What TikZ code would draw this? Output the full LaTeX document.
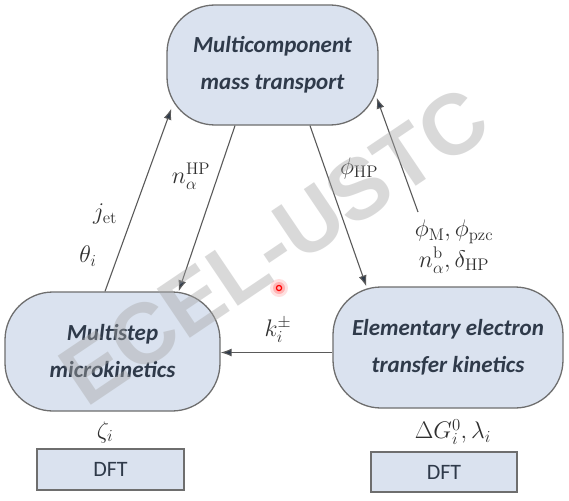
\documentclass[tikz,border=0pt]{standalone}
\usepackage{fix-cm}
\usepackage[no-math]{fontspec}
\setmainfont{Carlito}
\newfontfamily\wmfont{Liberation Sans}
\usetikzlibrary{arrows.meta}
\definecolor{boxfill}{HTML}{DAE2EF}
\definecolor{boxline}{HTML}{6E6E6E}
\definecolor{boxtext}{HTML}{2F3A4A}
\definecolor{arrline}{HTML}{5A5A5A}
\definecolor{arrhead}{HTML}{2E3A4A}
\definecolor{mathtext}{HTML}{303030}
\tikzset{
  procbox/.style={draw=boxline, line width=1.3pt, fill=boxfill, rounded corners=48pt,
    inner sep=0pt, align=center, text=boxtext,
    font=\fontsize{23}{37}\selectfont\bfseries\itshape},
  dftbox/.style={draw=boxline, line width=1.3pt, fill=boxfill, inner sep=0pt,
    text=boxtext, font=\fontsize{22}{26}\selectfont},
  conn/.style={draw=arrline, line width=1.1pt,
    -{Latex[length=11pt,width=8pt,fill=arrhead]}},
  lbl/.style={text=mathtext, inner sep=1pt, font=\fontsize{24}{28}\selectfont},
}
\begin{document}
\begin{tikzpicture}[x=1pt,y=-1pt]
\useasboundingbox (0,0) rectangle (569,500);
\fill[white] (0,0) rectangle (569,500);

% main boxes
\node[procbox, minimum width=211pt, minimum height=120pt] (T) at (272.5,65)
  {Multicomponent\\mass transport};
\node[procbox, minimum width=215pt, minimum height=119pt] (L) at (112.5,351.5)
  {Multistep\\microkinetics};
\node[procbox, minimum width=230pt, minimum height=121pt] (R) at (448,347.5)
  {Elementary electron\\transfer kinetics};

% DFT boxes
\node[dftbox, minimum width=147pt, minimum height=41pt] (D1) at (110.5,469.5) {DFT};
\node[dftbox, minimum width=146pt, minimum height=40pt] (D2) at (444,472) {DFT};

% connectors
\draw[conn] ([xshift=-7.5pt]L.north) -- ([xshift=5pt,yshift=17pt]T.south west);
\draw[conn] ([xshift=-37.5pt]T.south) -- ([xshift=-42pt]L.north east);
\draw[conn] ([xshift=37.5pt]T.south) -- ([xshift=34pt]R.north west);
\coordinate (phiM) at (418,212);
\draw[conn] (phiM) -- ([xshift=-2pt,yshift=28pt]T.south east);
\draw[conn] ([yshift=-5pt]R.west) -- ([yshift=-5pt]R.west -| L.east);

% labels
\node[lbl] (jet) at (105,214) {$j_{\mathrm{et}}$};
\node[lbl] (theta) at (88,256) {$\theta_i$};
\node[lbl] (nHP) at (191,176) {$n_\alpha^{\mathrm{HP}}$};
\node[lbl] (phiHP) at (359,168) {$\phi_{\mathrm{HP}}$};
\node[lbl] (phiMl) at (454,232) {$\phi_{\mathrm{M}},\phi_{\mathrm{pzc}}$};
\node[lbl] (nb) at (454,260) {$n_\alpha^{\mathrm{b}},\delta_{\mathrm{HP}}$};
\node[lbl] (k) at (278,330) {$k_i^{\pm}$};
\node[lbl] (zeta) at (105,432) {$\zeta_i$};
\node[lbl] (dG) at (453,432) {$\Delta G_i^0,\lambda_i$};

% watermark
\node[text=gray!70, opacity=0.42, rotate=34, inner sep=0pt,
  font=\fontsize{86}{90}\selectfont\wmfont\bfseries] (wm) at (274,246) {ECEL-USTC};

% pointer dot
\fill[red, opacity=0.12] (279,288) circle (9pt);
\fill[red, opacity=0.2] (279,288) circle (6pt);
\draw[red, line width=1.2pt] (279,288) circle (2.6pt);
\end{tikzpicture}
\end{document}
